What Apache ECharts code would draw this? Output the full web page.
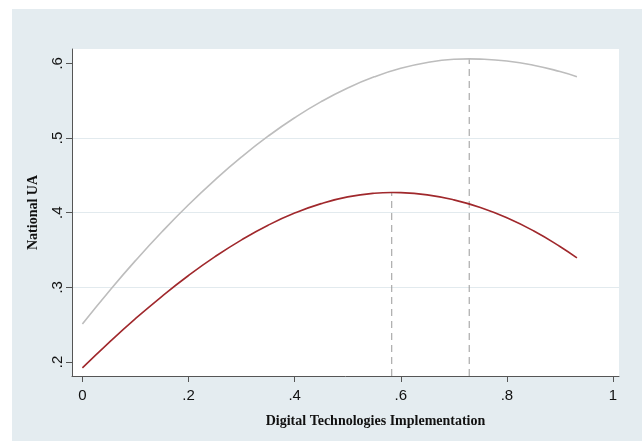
<!DOCTYPE html>
<html>
<head>
<meta charset="utf-8">
<script src="https://cdn.jsdelivr.net/npm/echarts@6/dist/echarts.min.js"></script>
<style>
  html, body { margin: 0; padding: 0; background: #ffffff; }
  #bg { position: absolute; left: 12px; top: 9px; width: 630px; height: 432px; background: #e4ecf0; }
  #chart { position: absolute; left: 0; top: 0; width: 642px; height: 441px; }
</style>
</head>
<body>
<div id="bg"></div>
<div id="chart"></div>
<script>
// ---- data ----
const grayX = [0, 0.05, 0.1, 0.15, 0.2, 0.25, 0.3, 0.35, 0.4, 0.45, 0.5, 0.55, 0.6, 0.65, 0.7, 0.729, 0.75, 0.8, 0.85, 0.9, 0.932];
const grayY = [0.251, 0.2945, 0.3357, 0.3744, 0.4106, 0.4440, 0.4747, 0.5024, 0.5271, 0.5487, 0.5670, 0.5819, 0.5934, 0.6012, 0.6054, 0.6060, 0.6057, 0.6031, 0.5975, 0.5890, 0.5821];
const redX  = [0, 0.05, 0.1, 0.15, 0.2, 0.25, 0.3, 0.35, 0.4, 0.45, 0.5, 0.55, 0.583, 0.6, 0.65, 0.7, 0.75, 0.8, 0.85, 0.9, 0.932];
const redY  = [0.192, 0.2259, 0.2580, 0.2880, 0.3158, 0.3411, 0.3636, 0.3832, 0.3994, 0.4121, 0.4211, 0.4260, 0.4270, 0.4268, 0.4238, 0.4171, 0.4069, 0.3931, 0.3757, 0.3547, 0.3393];
const peakX = [0.583, 0.729];
const peakY = [0.427, 0.606];
const xTicks = [0, 0.2, 0.4, 0.6, 0.8, 1];
const yTicks = [0.2, 0.3, 0.4, 0.5, 0.6];
const xTitle = 'Digital Technologies Implementation';
const yTitle = 'National UA';
const xRange = [-0.0196, 1.0113];
const yRange = [0.1812, 0.6192];

const fmt = v => {
  const s = String(+(+v).toFixed(2));
  return s.replace(/^0\./, '.');
};

const pairs = (xs, ys) => xs.map((x, i) => [x, ys[i]]);

const series = [
  {
    type: 'line', data: pairs(grayX, grayY), smooth: true, showSymbol: false,
    lineStyle: { color: '#bdbdbd', width: 1.6 }, z: 3
  },
  {
    type: 'line', data: pairs(redX, redY), smooth: true, showSymbol: false,
    lineStyle: { color: '#a0282c', width: 1.6 }, z: 4
  }
];
peakX.forEach((px, i) => {
  series.push({
    type: 'line', data: [[px, yRange[0]], [px, peakY[i]]], showSymbol: false,
    lineStyle: { color: '#9a9a9a', width: 1, type: [7, 5] }, z: 2
  });
});

const chart = echarts.init(document.getElementById('chart'), null, { renderer: 'canvas' });
chart.setOption({
  animation: false,
  backgroundColor: 'transparent',
  grid: { left: 72, top: 49, width: 547, height: 327, show: true, backgroundColor: '#ffffff', borderWidth: 0 },
  xAxis: {
    type: 'value', min: xRange[0], max: xRange[1], splitNumber: 5,
    name: xTitle, nameLocation: 'middle', nameGap: 38,
    nameTextStyle: { fontFamily: 'Liberation Serif', fontWeight: 'bold', fontSize: 14, color: '#111', padding: [0, 0, 0, 60] },
    axisLine: { show: true, onZero: false, lineStyle: { color: '#555', width: 1 } },
    axisTick: { show: true, customValues: xTicks, length: 6, lineStyle: { color: '#555' } },
    axisLabel: { customValues: xTicks, formatter: fmt, fontFamily: 'Liberation Sans', fontSize: 15, color: '#111', margin: 12 },
    splitLine: { show: false }
  },
  yAxis: {
    type: 'value', min: yRange[0], max: yRange[1], splitNumber: 5,
    name: yTitle, nameLocation: 'middle', nameGap: 32, nameRotate: 90,
    nameTextStyle: { fontFamily: 'Liberation Serif', fontWeight: 'bold', fontSize: 14, color: '#111' },
    axisLine: { show: true, onZero: false, lineStyle: { color: '#555', width: 1 } },
    axisTick: { show: true, customValues: yTicks, length: 6, lineStyle: { color: '#555' } },
    axisLabel: { customValues: yTicks, formatter: fmt, rotate: 90, fontFamily: 'Liberation Sans', fontSize: 15, color: '#111', margin: 7 },
    splitLine: { show: true, showMinLine: false, showMaxLine: false, lineStyle: { color: '#e2eaee', width: 1.2 } }
  },
  series: series
});
</script>
</body>
</html>
